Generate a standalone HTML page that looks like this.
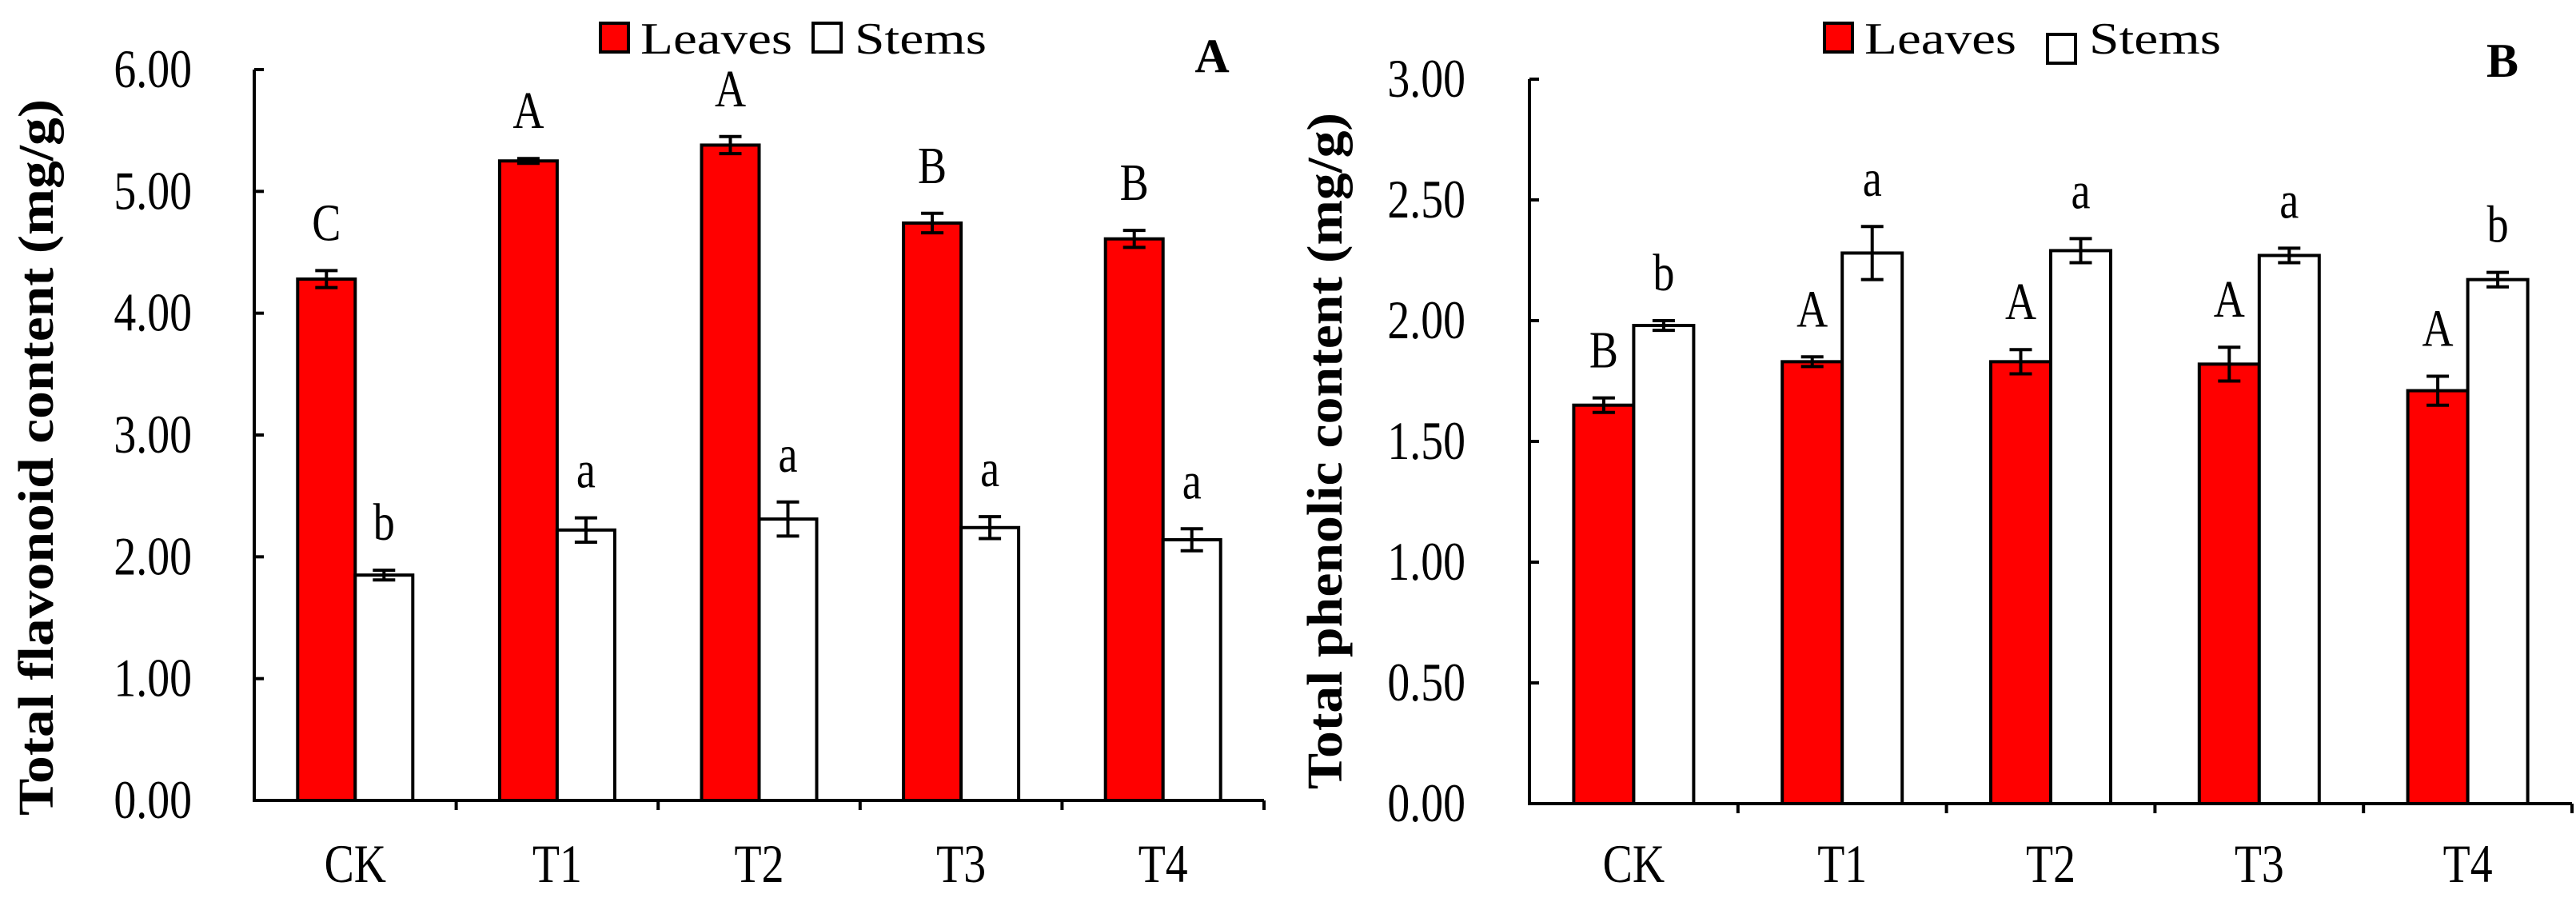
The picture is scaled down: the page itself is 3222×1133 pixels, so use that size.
<!DOCTYPE html>
<html><head><meta charset="utf-8"><style>
body{margin:0;background:#fff}
svg text{font-family:"Liberation Serif",serif;fill:#000}
</style></head><body>
<svg id="c" width="3222" height="1128" xmlns="http://www.w3.org/2000/svg"></svg>
<script>
const categories=["CK","T1","T2","T3","T4"];
const leavesA=[4.28,5.25,5.38,4.74,4.61];
const leavesAErr=[0.07,0.02,0.07,0.08,0.07];
const stemsA=[1.85,2.22,2.31,2.24,2.14];
const stemsAErr=[0.04,0.10,0.14,0.09,0.09];
const lettersLeavesA=["C","A","A","B","B"];
const lettersStemsA=["b","a","a","a","a"];
const ticksA=["0.00","1.00","2.00","3.00","4.00","5.00","6.00"];
const leavesB=[1.65,1.83,1.83,1.82,1.71];
const leavesBErr=[0.03,0.02,0.05,0.07,0.06];
const stemsB=[1.98,2.28,2.29,2.27,2.17];
const stemsBErr=[0.02,0.11,0.05,0.03,0.03];
const lettersLeavesB=["B","A","A","A","A"];
const lettersStemsB=["b","a","a","a","b"];
const ticksB=["0.00","0.50","1.00","1.50","2.00","2.50","3.00"];

const svg=document.getElementById('c');
const NS="http://www.w3.org/2000/svg";
function mk(tag,attrs,parent){const e=document.createElementNS(NS,tag);for(const k in attrs)e.setAttribute(k,attrs[k]);(parent||svg).appendChild(e);return e;}
function ctext(parent,tx,ty,anchor,size,str){
  return mk('text',{x:0,y:0,'text-anchor':anchor,'font-size':size,transform:`translate(${tx},${ty}) scale(0.82,1)`},parent);
}

function panel(p){
  const g=mk('g',{});
  
  
  const maxV=parseFloat(p.ticks[p.ticks.length-1]);
  const y=v=>p.y0-(v/maxV)*(p.y0-p.yTop);
  const cw=(p.xEnd-p.x0)/categories.length;
  const x=i=>p.x0+cw*(i+0.5);
  categories.forEach((c,i)=>{
    const cx=x(i)+p.shift;
    const lb=mk('rect',{x:cx-p.bw,y:y(p.leaves[i]),width:p.bw,height:p.y0-y(p.leaves[i]),fill:'#ff0000',stroke:'#000','stroke-width':4},g);
    
    
    const sb=mk('rect',{x:cx,y:y(p.stems[i]),width:p.bw,height:p.y0-y(p.stems[i]),fill:'#fff',stroke:'#000','stroke-width':4},g);
    
    
    [[cx-p.bw/2,p.leaves[i],p.lErr[i],p.lLet[i]],[cx+p.bw/2,p.stems[i],p.sErr[i],p.sLet[i]]].forEach(([ex,v,e,l])=>{
      const eg=mk('path',{d:`M${ex},${y(v+e)}V${y(v-e)}M${ex-14},${y(v+e)}H${ex+14}M${ex-14},${y(v-e)}H${ex+14}`,stroke:'#000','stroke-width':4,fill:'none'},g);
      
      
      const t=ctext(g,ex,y(v+e)-38,'middle',66);
      t.textContent=l;
      
      
    });
    const xl=ctext(g,cx,1103,'middle',68);
    xl.textContent=c;
    
    
  });
  const ax=mk('path',{d:`M${p.x0},${p.yTop}V${p.y0}H${p.xEnd}`,stroke:'#000','stroke-width':4,fill:'none'},g);
  
  
  for(let i=1;i<=categories.length;i++){
    mk('line',{x1:p.x0+cw*i,x2:p.x0+cw*i,y1:p.y0,y2:p.y0+12,stroke:'#000','stroke-width':4},g);
  }
  p.ticks.forEach(t=>{
    const v=parseFloat(t);
    mk('line',{x1:p.x0,x2:p.x0+12,y1:y(v),y2:y(v),stroke:'#000','stroke-width':4},g);
    const tl=ctext(g,p.labelRight,y(v)+22,'end',68);
    tl.textContent=t;
    
    
  });
  const yt=mk('text',{x:0,y:0,'text-anchor':'middle','font-size':62,'font-weight':'bold',transform:`translate(${p.titleX},${p.titleY}) rotate(-90)`,textLength:p.titleLen,lengthAdjust:'spacingAndGlyphs'},g);
  yt.textContent=p.title;
  
  
  const l1=mk('rect',{x:p.leg[0],y:p.leg[1],width:35,height:36,fill:'#ff0000',stroke:'#000','stroke-width':4},g);
  
  
  const lt1=mk('text',{x:p.leg[0]+50,y:p.leg[1]+38,'font-size':56,textLength:190,lengthAdjust:'spacingAndGlyphs'},g);
  lt1.textContent='Leaves';
  
  
  const l2=mk('rect',{x:p.leg[2],y:p.leg[3],width:35,height:36,fill:'#fff',stroke:'#000','stroke-width':4},g);
  
  
  const lt2=mk('text',{x:p.leg[2]+52,y:p.leg[1]+38,'font-size':56,textLength:165,lengthAdjust:'spacingAndGlyphs'},g);
  lt2.textContent='Stems';
  
  
  const pl=mk('text',{x:p.letter[0],y:p.letter[1],'font-size':60,'font-weight':'bold','text-anchor':'middle'},g);
  pl.textContent=p.panelLetter;
  
  
}
panel({name:'panel-a-flavonoid-chart',x0:318,xEnd:1581,y0:1001,yTop:87,bw:72,shift:0,
  leaves:leavesA,lErr:leavesAErr,stems:stemsA,sErr:stemsAErr,lLet:lettersLeavesA,sLet:lettersStemsA,ticks:ticksA,
  labelRight:240,title:'Total flavonoid content  (mg/g)',titleX:66,titleY:572,titleLen:896,
  leg:[751,29,1017,29],letter:[1516,90],panelLetter:'A'});
panel({name:'panel-b-phenolic-chart',x0:1913,xEnd:3217,y0:1005,yTop:99,bw:75,shift:0,
  leaves:leavesB,lErr:leavesBErr,stems:stemsB,sErr:stemsBErr,lLet:lettersLeavesB,sLet:lettersStemsB,ticks:ticksB,
  labelRight:1833,title:'Total phenolic content (mg/g)',titleX:1678,titleY:564,titleLen:846,
  leg:[2282,29,2561,43],letter:[3130,96],panelLetter:'B'});
</script>
</body></html>
